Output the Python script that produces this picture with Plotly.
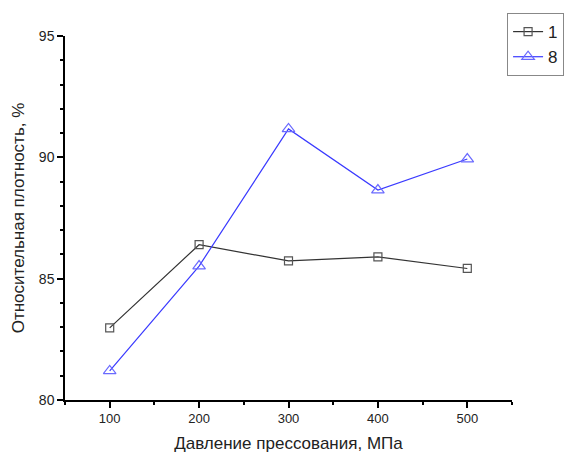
import plotly.graph_objects as go

pressure = [100, 200, 300, 400, 500]
series_1 = [82.97, 86.4, 85.73, 85.9, 85.42]
series_8 = [81.2, 85.52, 91.17, 88.65, 89.93]
names = ["1", "8"]
x_ticks = [100, 200, 300, 400, 500]
y_ticks = [80, 85, 90, 95]

fig = go.Figure()
fig.add_trace(go.Scatter(
    x=pressure, y=series_1, name=names[0], mode="lines+markers",
    line=dict(color="#333333", width=1.2),
    marker=dict(symbol="square-open", size=8, color="#555555", line=dict(width=1.2)),
))
fig.add_trace(go.Scatter(
    x=pressure, y=series_8, name=names[1], mode="lines+markers",
    line=dict(color="#3a3aff", width=1.2),
    marker=dict(symbol="triangle-up-open", size=11, color="#6a6aff", line=dict(width=1.2)),
))

font = "Liberation Sans, Arial, sans-serif"
fig.update_layout(
    width=573, height=455,
    margin=dict(l=65, r=61, t=36, b=55, autoexpand=False),
    paper_bgcolor="white", plot_bgcolor="white",
    font=dict(family=font, size=14, color="#222"),
    showlegend=True,
    legend=dict(x=0.989, y=1.063, xanchor="left", yanchor="top",
                bordercolor="#888", borderwidth=1, bgcolor="white",
                font=dict(size=17, family=font), tracegroupgap=0),
    xaxis=dict(range=[50, 550], tickvals=x_ticks, ticks="outside", ticklen=6,
               tickwidth=1.5, tickcolor="black", showline=True, linecolor="black",
               linewidth=1.5, showgrid=False, zeroline=False,
               tickfont=dict(size=13, family=font),
               minor=dict(dtick=50, tick0=50, ticks="outside", ticklen=3, tickwidth=1.5, tickcolor="black"),
               title=dict(text="Давление прессования, МПа", font=dict(size=17, family=font), standoff=12)),
    yaxis=dict(range=[80, 95], tickvals=y_ticks, ticks="outside", ticklen=6,
               tickwidth=1.5, tickcolor="black", showline=True, linecolor="black",
               linewidth=1.5, showgrid=False, zeroline=False,
               tickfont=dict(size=14, family=font),
               minor=dict(dtick=1, tick0=80, ticks="outside", ticklen=3, tickwidth=1.5, tickcolor="black"),
               title=dict(text="Относительная плотность, %", font=dict(size=17, family=font), standoff=10)),
)

fig.write_html("out.html")
